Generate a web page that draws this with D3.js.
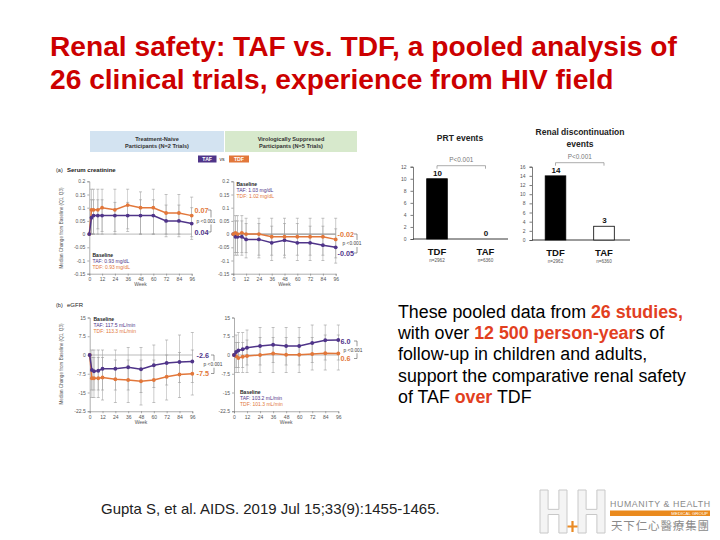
<!DOCTYPE html>
<html><head><meta charset="utf-8">
<script src="https://cdn.jsdelivr.net/npm/d3@7"></script>
<style>body{margin:0;background:#fff;} svg{display:block;font-family:"Liberation Sans",Arial,sans-serif;}</style>
</head><body><svg id="c" width="720" height="540"></svg>
<script>
// ---------------- DATA ----------------
const titleLines = ["Renal safety: TAF vs. TDF, a pooled analysis of", "26 clinical trials, experience from HIV field"];
const weeks = [0, 2, 4, 8, 12, 24, 36, 48, 60, 72, 84, 96];
const weekTicks = [0, 12, 24, 36, 48, 60, 72, 84, 96];
const crTicks = [0.2, 0.15, 0.1, 0.05, 0, -0.05, -0.1, -0.15];
const gfrTicks = [15, 7.5, 0, -7.5, -15, -22.5];

// Serum creatinine, treatment-naive
const crNaiveTAF   = [0, 0.062, 0.07, 0.07, 0.07, 0.07, 0.07, 0.07, 0.07, 0.05, 0.05, 0.04];
const crNaiveTAFlo = [0, 0.0, 0.0, 0.0, 0.01, 0.01, 0.01, 0.0, 0.0, -0.01, -0.01, -0.02];
const crNaiveTAFhi = [0, 0.13, 0.13, 0.13, 0.13, 0.12, 0.12, 0.13, 0.13, 0.11, 0.11, 0.10];
const crNaiveTDF   = [0, 0.092, 0.092, 0.092, 0.10, 0.092, 0.11, 0.10, 0.10, 0.08, 0.08, 0.07];
const crNaiveTDFlo = [0, 0.0, 0.0, 0.02, 0.0, 0.0, 0.02, 0.0, 0.0, 0.0, 0.0, -0.01];
const crNaiveTDFhi = [0, 0.17, 0.17, 0.17, 0.17, 0.17, 0.17, 0.16, 0.17, 0.15, 0.15, 0.14];
// Serum creatinine, virologically suppressed
const crSupTAF   = [0, -0.01, -0.01, -0.01, -0.02, -0.02, -0.033, -0.023, -0.033, -0.033, -0.042, -0.05];
const crSupTAFlo = [0, -0.08, -0.08, -0.08, -0.09, -0.09, -0.1, -0.09, -0.1, -0.1, -0.1, -0.11];
const crSupTAFhi = [0, 0.05, 0.05, 0.05, 0.04, 0.04, 0.03, 0.04, 0.04, 0.03, 0.03, 0.02];
const crSupTDF   = [0, 0.005, 0, 0.005, 0, 0, -0.01, -0.01, -0.01, -0.01, -0.01, -0.02];
const crSupTDFlo = [0, -0.07, -0.07, -0.07, -0.07, -0.08, -0.08, -0.08, -0.08, -0.08, -0.08, -0.09];
const crSupTDFhi = [0, 0.07, 0.07, 0.07, 0.06, 0.06, 0.06, 0.06, 0.06, 0.06, 0.06, 0.06];
// eGFR, treatment-naive
const gfrNaiveTAF   = [0, -6.0, -6.5, -6.3, -5.5, -5.5, -4.9, -5.7, -4.1, -3.2, -2.8, -2.6];
const gfrNaiveTAFlo = [0, -14, -14, -14, -14, -14, -14, -15, -13, -12, -11, -11];
const gfrNaiveTAFhi = [0, 2, 2, 2, 2, 2, 3, 3, 4, 6, 8, 9];
const gfrNaiveTDF   = [0, -9.3, -9.3, -9.3, -9.0, -9.7, -10.0, -10.5, -10.0, -8.7, -7.8, -7.5];
const gfrNaiveTDFlo = [0, -17, -17, -17, -18, -19, -19, -20, -19, -18, -17, -16];
const gfrNaiveTDFhi = [0, -1, -1, -1, -1, -2, -2, -2, -2, 0, 1, 2];
// eGFR, virologically suppressed
const gfrSupTAF   = [0, 1.2, 1.8, 2.3, 2.9, 3.6, 4.1, 3.6, 3.6, 4.8, 5.9, 6.0];
const gfrSupTAFlo = [0, -5, -5, -5, -4, -4, -3, -4, -4, -3, -2, -2];
const gfrSupTAFhi = [0, 8, 9, 9, 10, 11, 11, 11, 11, 12, 12, 12];
const gfrSupTDF   = [0, -0.5, -1.2, -0.7, -0.4, 0.0, 0.6, 0.1, 0.1, 0.4, 0.7, 0.6];
const gfrSupTDFlo = [0, -7, -7, -7, -7, -7, -7, -7, -7, -6, -6, -6];
const gfrSupTDFhi = [0, 5, 5, 5, 6, 7, 7, 7, 7, 7, 8, 8];

// Bar charts
const barCats = ["TDF", "TAF"];
const barN = ["n=2962", "n=6360"];
const prtValues = [10, 0];
const prtTicks = [0, 2, 4, 6, 8, 10, 12];
const discValues = [14, 3];
const discTicks = [0, 2, 4, 6, 8, 10, 12, 14, 16];

const citation = "Gupta S, et al. AIDS. 2019 Jul 15;33(9):1455-1465.";

// ---------------- STYLE ----------------
const PURPLE = "#4f3489", ORANGE = "#e2773a", TITLE_RED = "#cc0000", BODY_RED = "#e2401f";
const svg = d3.select("#c");

// ---------------- TITLE ----------------
const tl = svg.append("g");
titleLines.forEach((t, i) => {
  tl.append("text").attr("x", 50).attr("y", 56 + i * 33).attr("fill", TITLE_RED)
    .attr("font-size", 26).attr("font-weight", "bold").text(t);
});
(function(){
  const n = tl.select("text").node();
  const w = n.getComputedTextLength();
  tl.selectAll("text").attr("font-size", 26 * 627 / w);
})();

// ---------------- HEADER BOXES ----------------
svg.append("rect").attr("x", 90).attr("y", 131).attr("width", 134).attr("height", 21).attr("fill", "#d3e3f1");
svg.append("rect").attr("x", 225).attr("y", 131).attr("width", 132).attr("height", 21).attr("fill", "#d7e9cc");
[["Treatment-Naive", "Participants (N=2 Trials)", 157], ["Virologically Suppressed", "Participants (N=5 Trials)", 291]].forEach(d => {
  svg.append("text").attr("x", d[2]).attr("y", 140.5).attr("text-anchor", "middle").attr("font-size", 5.6).attr("font-weight", "bold").attr("fill", "#333").text(d[0]);
  svg.append("text").attr("x", d[2]).attr("y", 147.5).attr("text-anchor", "middle").attr("font-size", 5.6).attr("font-weight", "bold").attr("fill", "#333").text(d[1]);
});
svg.append("rect").attr("x", 198).attr("y", 155.5).attr("width", 18.5).attr("height", 7).attr("fill", PURPLE);
svg.append("text").attr("x", 207.2).attr("y", 161).attr("text-anchor", "middle").attr("font-size", 5.2).attr("font-weight", "bold").attr("fill", "#fff").text("TAF");
svg.append("text").attr("x", 222).attr("y", 161).attr("text-anchor", "middle").attr("font-size", 5.2).attr("fill", "#333").text("vs");
svg.append("rect").attr("x", 229).attr("y", 155.5).attr("width", 20).attr("height", 7).attr("fill", ORANGE);
svg.append("text").attr("x", 239).attr("y", 161).attr("text-anchor", "middle").attr("font-size", 5.2).attr("font-weight", "bold").attr("fill", "#fff").text("TDF");

// panel labels
svg.append("text").attr("x", 56).attr("y", 172).attr("font-size", 5.5).attr("fill", "#222").text("(a)");
svg.append("text").attr("x", 67).attr("y", 172).attr("font-size", 6).attr("font-weight", "bold").attr("fill", "#222").text("Serum creatinine");
svg.append("text").attr("x", 56).attr("y", 307).attr("font-size", 5.5).attr("fill", "#222").text("(b)");
svg.append("text").attr("x", 67).attr("y", 307).attr("font-size", 6).attr("fill", "#222").text("eGFR");

// ---------------- LINE CHARTS ----------------
function lineChart(o) {
  const g = svg.append("g");
  const x = d3.scaleLinear().domain([0, 96]).range([o.x0, o.x1]);
  const y = d3.scaleLinear().domain(o.domain).range([o.yb, o.yt]);
  g.append("line").attr("x1", o.x0).attr("x2", o.x1).attr("y1", y(0)).attr("y2", y(0))
    .attr("stroke", o.zeroColor).attr("stroke-width", 0.8);
  o.series.forEach(s => {
    weeks.forEach((w, i) => {
      if (i === 0) return;
      const cx = x(w);
      g.append("line").attr("x1", cx).attr("x2", cx).attr("y1", y(s.lo[i])).attr("y2", y(s.hi[i]))
        .attr("stroke", "#9a9a9a").attr("stroke-width", 0.6).attr("opacity", 0.85);
      [s.lo[i], s.hi[i]].forEach(v => g.append("line").attr("x1", cx - 1.5).attr("x2", cx + 1.5)
        .attr("y1", y(v)).attr("y2", y(v)).attr("stroke", "#9a9a9a").attr("stroke-width", 0.6));
    });
  });
  const ya = g.append("g").attr("transform", `translate(${o.x0},0)`)
    .call(d3.axisLeft(y).tickValues(o.ticks).tickSize(2).tickPadding(2).tickFormat(d => String(d)));
  const xa = g.append("g").attr("transform", `translate(0,${o.yb})`)
    .call(d3.axisBottom(x).tickValues(weekTicks).tickSize(2).tickPadding(2));
  [ya, xa].forEach(a => {
    a.selectAll("text").attr("font-size", 5).attr("fill", "#555").attr("font-family", "Liberation Sans, Arial, sans-serif");
    a.selectAll("path,line").attr("stroke", "#777").attr("stroke-width", 0.6);
  });
  g.append("text").attr("x", (o.x0 + o.x1) / 2).attr("y", o.yb + 12.5).attr("text-anchor", "middle")
    .attr("font-size", 5).attr("fill", "#555").text("Week");
  o.series.forEach(s => {
    const line = d3.line().x((d, i) => x(weeks[i])).y(d => y(d));
    g.append("path").attr("d", line(s.v)).attr("fill", "none").attr("stroke", s.color).attr("stroke-width", 1.5);
    g.selectAll(null).data(s.v).enter().append("circle")
      .attr("cx", (d, i) => x(weeks[i])).attr("cy", d => y(d)).attr("r", 1.9).attr("fill", s.color);
  });
  const b = o.base;
  g.append("text").attr("x", b.x).attr("y", b.y).attr("font-size", 5).attr("font-weight", "bold").attr("fill", "#222").text("Baseline");
  g.append("text").attr("x", b.x).attr("y", b.y + 6).attr("font-size", 5).attr("fill", PURPLE).text(b.taf);
  g.append("text").attr("x", b.x).attr("y", b.y + 12).attr("font-size", 5).attr("fill", ORANGE).text(b.tdf);
  const e = o.end;
  g.append("text").attr("x", e.x).attr("y", e.yTop + 2.6).attr("font-size", 7.2).attr("font-weight", "bold").attr("fill", e.cTop).text(e.tTop);
  g.append("text").attr("x", e.x).attr("y", e.yBot + 2.6).attr("font-size", 7.2).attr("font-weight", "bold").attr("fill", e.cBot).text(e.tBot);
  const bx = e.bx, mid = (e.yTop + e.yBot) / 2;
  g.append("path").attr("d", `M${bx - 3},${e.yTop}H${bx}V${mid - 3.5}M${bx},${mid + 3.5}V${e.yBot}H${bx - 3}`)
    .attr("fill", "none").attr("stroke", "#555").attr("stroke-width", 0.6);
  g.append("text").attr("x", e.px).attr("y", mid + 1.8).attr("text-anchor", "middle").attr("font-size", 4.8).attr("fill", "#444").text("p <0.001");
  return g;
}

lineChart({x0: 89.3, x1: 191.7, yt: 181.3, yb: 273.7, domain: [-0.15, 0.2], ticks: crTicks, zeroColor: "#aaa",
  series: [{v: crNaiveTDF, lo: crNaiveTDFlo, hi: crNaiveTDFhi, color: ORANGE}, {v: crNaiveTAF, lo: crNaiveTAFlo, hi: crNaiveTAFhi, color: PURPLE}],
  base: {x: 92.5, y: 257, taf: "TAF: 0.93 mg/dL", tdf: "TDF: 0.93 mg/dL"},
  end: {x: 194.5, tTop: "0.07", cTop: ORANGE, yTop: 210, tBot: "0.04", cBot: PURPLE, yBot: 232, bx: 211, px: 206}});

lineChart({x0: 233.3, x1: 335.7, yt: 181.3, yb: 273.7, domain: [-0.15, 0.2], ticks: crTicks, zeroColor: "#555",
  series: [{v: crSupTAF, lo: crSupTAFlo, hi: crSupTAFhi, color: PURPLE}, {v: crSupTDF, lo: crSupTDFlo, hi: crSupTDFhi, color: ORANGE}],
  base: {x: 236.5, y: 185.5, taf: "TAF: 1.03 mg/dL", tdf: "TDF: 1.02 mg/dL"},
  end: {x: 337.5, tTop: "-0.02", cTop: ORANGE, yTop: 234, tBot: "-0.05", cBot: PURPLE, yBot: 253, bx: 357, px: 352}});

lineChart({x0: 89.7, x1: 192.3, yt: 317.5, yb: 411.25, domain: [-22.5, 15], ticks: gfrTicks, zeroColor: "#aaa",
  series: [{v: gfrNaiveTDF, lo: gfrNaiveTDFlo, hi: gfrNaiveTDFhi, color: ORANGE}, {v: gfrNaiveTAF, lo: gfrNaiveTAFlo, hi: gfrNaiveTAFhi, color: PURPLE}],
  base: {x: 93.5, y: 321, taf: "TAF: 117.5 mL/min", tdf: "TDF: 113.3 mL/min"},
  end: {x: 196.5, tTop: "-2.6", cTop: PURPLE, yTop: 355, tBot: "-7.5", cBot: ORANGE, yBot: 373.5, bx: 214, px: 213}});

lineChart({x0: 234, x1: 338.3, yt: 317.5, yb: 411.25, domain: [-22.5, 15], ticks: gfrTicks, zeroColor: "#aaa",
  series: [{v: gfrSupTDF, lo: gfrSupTDFlo, hi: gfrSupTDFhi, color: ORANGE}, {v: gfrSupTAF, lo: gfrSupTAFlo, hi: gfrSupTAFhi, color: PURPLE}],
  base: {x: 240, y: 393.5, taf: "TAF: 103.2 mL/min", tdf: "TDF: 101.3 mL/min"},
  end: {x: 340.5, tTop: "6.0", cTop: PURPLE, yTop: 341, tBot: "0.6", cBot: ORANGE, yBot: 358.5, bx: 357, px: 353}});

[[63, 228], [63, 364]].forEach(p => {
  svg.append("text").attr("transform", `translate(${p[0]},${p[1]}) rotate(-90)`).attr("text-anchor", "middle")
    .attr("font-size", 4.6).attr("fill", "#555").text("Median Change from Baseline (Q1, Q3)");
});

// ---------------- BAR CHARTS ----------------
function barChart(o) {
  const g = svg.append("g");
  const x = d3.scalePoint().domain(barCats).range([o.c0, o.c1]);
  const y = d3.scaleLinear().domain([0, o.max]).range([o.yb, o.yt]);
  const ya = g.append("g").attr("transform", `translate(${o.ax},0)`)
    .call(d3.axisLeft(y).tickValues(o.ticks).tickSize(2.5).tickPadding(4));
  ya.selectAll("text").attr("font-size", 5).attr("fill", "#555").attr("font-family", "Liberation Sans, Arial, sans-serif");
  ya.selectAll("path,line").attr("stroke", "#444").attr("stroke-width", 0.7);
  g.append("line").attr("x1", o.ax).attr("x2", o.axEnd).attr("y1", o.yb).attr("y2", o.yb).attr("stroke", "#222").attr("stroke-width", 0.9);
  const bw = 20.6;
  g.selectAll(null).data(o.values).enter().append("rect")
    .attr("x", (d, i) => x(barCats[i]) - bw / 2).attr("width", bw)
    .attr("y", d => y(d)).attr("height", d => o.yb - y(d))
    .attr("fill", (d, i) => i === 0 ? "#000" : "#fff").attr("stroke", "#000").attr("stroke-width", 0.8);
  g.selectAll(null).data(o.values).enter().append("text")
    .attr("x", (d, i) => x(barCats[i]) + 0.5).attr("y", d => y(d) - 3).attr("text-anchor", "middle")
    .attr("font-size", 8).attr("font-weight", "bold").attr("fill", "#111").text(d => d);
  barCats.forEach((c, i) => {
    g.append("text").attr("x", x(c)).attr("y", o.yb + 16).attr("text-anchor", "middle").attr("font-size", 9.5).attr("font-weight", "bold").attr("fill", "#111").text(c);
    g.append("text").attr("x", x(c)).attr("y", o.yb + 23).attr("text-anchor", "middle").attr("font-size", 4.6).attr("fill", "#555").text(barN[i]);
  });
  g.append("path").attr("d", `M${x("TDF")},${o.by + 3}V${o.by}H${x("TAF")}V${o.by + 3}`).attr("fill", "none").attr("stroke", "#888").attr("stroke-width", 0.7);
  g.append("text").attr("x", (x("TDF") + x("TAF")) / 2).attr("y", o.by - 4).attr("text-anchor", "middle").attr("font-size", 6.4).attr("fill", "#777").text("P<0.001");
  o.title.forEach((t, i) => g.append("text").attr("x", o.tx).attr("y", o.ty + i * 11.5).attr("text-anchor", "middle")
    .attr("font-size", 8.5).attr("font-weight", "bold").attr("fill", "#222").text(t));
}
barChart({c0: 437, c1: 485.5, ax: 413, axEnd: 508, yb: 239, yt: 166.7, max: 12, ticks: prtTicks, values: prtValues,
  by: 165.7, title: ["PRT events"], tx: 460, ty: 141});
barChart({c0: 555.5, c1: 604, ax: 532, axEnd: 630, yb: 240, yt: 166.7, max: 16, ticks: discTicks, values: discValues,
  by: 162.7, title: ["Renal discontinuation", "events"], tx: 580, ty: 135});

// ---------------- BODY TEXT ----------------
const body = [
  [["These pooled data from ", 0], ["26 studies,", 1]],
  [["with over ", 0], ["12 500 person-year", 1], ["s of", 0]],
  [["follow-up in children and adults,", 0]],
  [["support the comparative renal safety", 0]],
  [["of TAF ", 0], ["over", 1], [" TDF", 0]]
];
const bt = svg.append("g");
body.forEach((ln, i) => {
  const t = bt.append("text").attr("x", 398).attr("y", 317.5 + i * 21.4).attr("font-size", 17).attr("fill", "#000");
  ln.forEach(s => t.append("tspan").text(s[0]).attr("fill", s[1] ? BODY_RED : "#000").attr("font-weight", s[1] ? "bold" : "normal"));
});
(function(){
  const w = bt.selectAll("text").nodes()[3].getComputedTextLength();
  bt.selectAll("text").attr("font-size", 17 * 288 / w);
})();

// ---------------- CITATION ----------------
const ct = svg.append("text").attr("x", 101).attr("y", 514).attr("font-size", 14).attr("fill", "#222").text(citation);
ct.attr("font-size", 14 * 339 / ct.node().getComputedTextLength());

// ---------------- LOGO ----------------
function hShape(x0, y0, w, h) {
  const s = w * 0.3, cb = h * 0.45, ch = h * 0.12;
  return `M${x0},${y0}h${s}v${cb}h${w - 2 * s}v${-cb}h${s}v${h}h${-s}v${-(h - cb - ch)}h${-(w - 2 * s)}v${h - cb - ch}h${-s}Z`;
}
svg.append("path").attr("d", hShape(540, 490, 27, 43)).attr("fill", "#f4f4f4").attr("stroke", "#c8c8c8").attr("stroke-width", 1);
svg.append("path").attr("d", hShape(578, 490, 27, 43)).attr("fill", "#f4f4f4").attr("stroke", "#c8c8c8").attr("stroke-width", 1);
svg.append("path").attr("d", "M572.5,521v11M567.5,526.5h10").attr("stroke", "#e98a24").attr("stroke-width", 2.2);
svg.append("text").attr("x", 610).attr("y", 507).attr("font-size", 8.8).attr("fill", "#8a8a8a").attr("textLength", 100).text("HUMANITY & HEALTH");
svg.append("rect").attr("x", 610).attr("y", 510.5).attr("width", 100).attr("height", 5.5).attr("fill", "#ea8a1e");
svg.append("text").attr("x", 708).attr("y", 515).attr("text-anchor", "end").attr("font-size", 4.4).attr("fill", "#fff").text("MEDICAL GROUP");
svg.append("text").attr("x", 611).attr("y", 529.5).attr("font-size", 11.5).attr("fill", "#8a8a8a")
  .attr("font-family", "Noto Sans CJK TC, Noto Sans CJK SC, sans-serif").attr("textLength", 98).text("天下仁心醫療集團");
</script></body></html>
